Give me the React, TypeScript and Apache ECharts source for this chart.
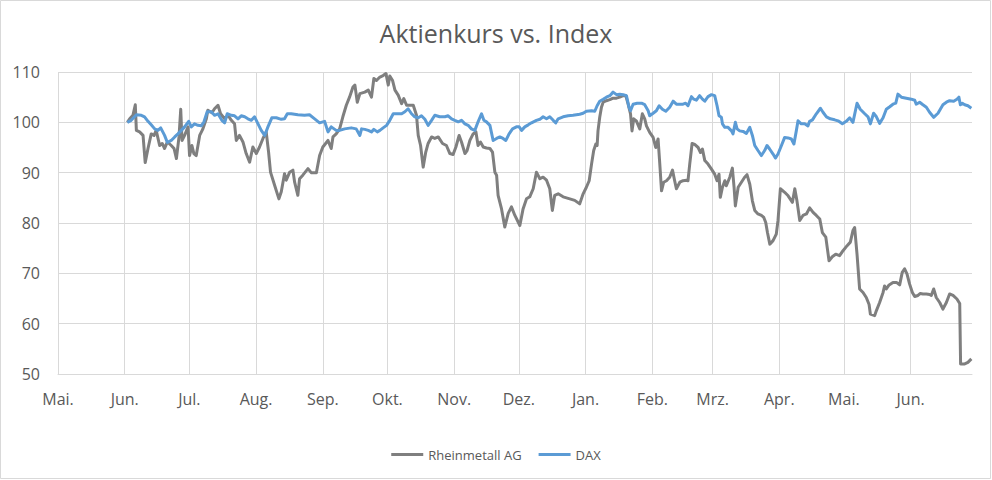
import React, { useEffect, useRef } from "react";
import * as echarts from "echarts";

// x values are days counted from 1 May (first month on the axis)
const monthStarts = [0, 31, 61, 92, 123, 153, 184, 214, 245, 276, 304, 335, 365, 396];
const monthLabels = ["Mai.", "Jun.", "Jul.", "Aug.", "Sep.", "Okt.", "Nov.", "Dez.", "Jan.", "Feb.", "Mrz.", "Apr.", "Mai.", "Jun."];
const yTicks = [50, 60, 70, 80, 90, 100, 110];

const rheinDays = [
  32.2, 33.3, 34.8, 35.9, 36.4, 37.9, 39.5, 40.5, 41.8, 43.3, 44.6, 45.6, 47.2, 48.4, 49.5, 50.8, 52.6, 53.9, 55.0, 56.2,
  57.0, 57.6, 58.8, 60.4, 61.1, 62.2, 63.1, 64.2, 65.8, 67.3, 68.9, 69.6, 71.5, 72.7, 74.3, 75.5, 77.4, 79.0, 80.5, 82.0,
  82.8, 84.3, 85.9, 87.4, 89.0, 90.5, 92.1, 93.6, 95.2, 96.7, 97.8, 98.7, 100.6, 102.6, 103.7, 105.2, 106.0, 107.6, 109.1, 109.9,
  111.4, 112.2, 113.7, 116.1, 117.6, 120.0, 121.5, 123.0, 125.4, 126.9, 127.7, 129.2, 130.8, 132.3, 133.9, 135.4, 137.0, 137.9, 139.0, 140.2,
  142.5, 144.1, 145.6, 146.7, 147.9, 149.5, 151.0, 152.3, 153.4, 154.1, 155.4, 156.5, 158.0, 159.6, 160.6, 161.9, 163.4, 165.0, 166.5, 167.3,
  168.4, 169.6, 170.8, 171.9, 173.5, 175.0, 176.6, 178.6, 180.4, 182.0, 183.5, 184.8, 186.3, 187.4, 189.0, 190.0, 191.3, 192.8, 194.1, 195.1,
  196.2, 197.5, 199.0, 200.6, 201.8, 202.9, 203.7, 204.4, 206.0, 207.5, 209.1, 210.6, 212.2, 214.5, 216.0, 217.6, 219.1, 220.7, 222.2, 223.8,
  225.3, 226.9, 228.4, 229.6, 230.7, 232.3, 234.6, 237.7, 240.0, 242.3, 243.9, 245.4, 246.7, 247.8, 248.8, 249.8, 250.4, 250.8, 251.6, 252.4,
  253.2, 254.7, 256.3, 257.8, 259.4, 260.9, 262.5, 263.7, 264.8, 265.9, 266.6, 267.4, 268.6, 270.2, 271.4, 272.5, 273.3, 274.8, 276.4, 277.6,
  278.7, 279.5, 280.3, 281.3, 282.6, 284.1, 285.4, 286.4, 287.2, 288.8, 290.3, 291.9, 292.6, 293.4, 294.5, 295.7, 297.3, 298.4, 299.3, 300.4,
  301.9, 303.5, 305.0, 306.1, 307.0, 307.6, 308.6, 309.7, 310.4, 312.0, 313.2, 314.0, 314.6, 315.9, 317.4, 318.9, 320.0, 321.3, 322.5, 323.6,
  325.1, 326.7, 327.8, 328.7, 329.5, 330.6, 332.1, 333.6, 334.4, 335.5, 337.5, 339.1, 341.1, 342.2, 343.2, 344.5, 346.0, 347.6, 349.1, 350.7,
  352.2, 353.8, 355.0, 356.6, 358.1, 359.6, 361.2, 363.0, 364.6, 366.5, 368.0, 369.2, 370.0, 371.1, 372.3, 373.9, 375.4, 376.7, 377.3, 379.3,
  380.1, 381.6, 383.2, 383.9, 384.7, 386.0, 387.8, 389.4, 390.9, 392.1, 393.2, 394.3, 395.5, 396.8, 397.9, 399.4, 400.5, 401.7, 403.3, 404.8,
  405.6, 406.7, 407.9, 409.5, 411.0, 412.6, 414.1, 415.7, 417.5, 418.8, 419.2, 421.1, 422.6, 424.2,
];
const rheinValues = [
  100.0, 100.7, 101.4, 103.5, 98.4, 98.1, 97.4, 92.0, 94.8, 97.7, 97.4, 98.4, 95.4, 95.8, 94.8, 96.1, 95.4, 94.8, 92.8, 97.1,
  102.6, 96.4, 97.4, 99.1, 93.4, 95.4, 93.8, 93.4, 97.4, 98.7, 100.7, 102.4, 101.9, 102.7, 103.4, 101.7, 100.7, 101.4, 100.4, 99.7,
  96.4, 97.4, 96.1, 93.8, 92.1, 95.1, 93.8, 95.1, 96.8, 98.1, 94.1, 90.1, 87.5, 84.8, 86.2, 89.8, 88.5, 90.1, 90.5, 88.1,
  85.5, 88.8, 89.5, 90.8, 90.0, 90.0, 93.4, 95.1, 96.4, 94.8, 97.1, 97.7, 98.7, 101.1, 103.4, 105.0, 107.0, 107.4, 104.0, 105.7,
  106.0, 106.4, 105.0, 108.7, 108.3, 109.0, 109.3, 109.7, 107.4, 109.2, 108.3, 106.4, 105.4, 103.7, 104.7, 103.4, 103.4, 103.4, 101.4, 97.4,
  95.4, 91.1, 94.1, 95.8, 97.1, 96.8, 97.1, 95.8, 95.4, 93.8, 93.6, 95.1, 97.4, 96.1, 93.8, 94.4, 96.4, 97.7, 98.1, 95.4,
  96.1, 95.1, 94.9, 94.8, 94.1, 90.1, 89.5, 85.5, 82.8, 79.2, 81.9, 83.2, 81.5, 79.5, 82.8, 84.8, 85.2, 86.8, 90.1, 88.8,
  89.1, 88.5, 86.8, 82.5, 85.5, 85.8, 85.2, 84.8, 84.5, 83.8, 85.8, 87.1, 88.4, 91.7, 94.4, 95.7, 95.4, 98.3, 101.0, 103.0,
  104.0, 104.3, 104.5, 104.8, 104.8, 105.0, 105.3, 105.3, 103.6, 101.7, 98.3, 100.7, 100.3, 98.7, 101.7, 100.7, 99.3, 98.0, 97.0, 95.0,
  96.7, 91.7, 86.4, 88.1, 88.4, 89.1, 90.5, 88.4, 86.8, 88.1, 88.4, 88.5, 88.4, 91.7, 95.8, 95.6, 95.0, 94.0, 94.7, 92.4,
  91.7, 90.7, 89.7, 88.4, 89.7, 85.1, 87.1, 88.4, 87.4, 89.1, 90.9, 87.1, 83.4, 87.1, 88.1, 89.1, 89.6, 87.7, 84.4, 82.5,
  81.8, 81.5, 81.1, 80.1, 78.1, 75.8, 76.5, 77.8, 80.5, 86.8, 86.1, 85.4, 84.1, 86.8, 84.4, 80.5, 81.5, 81.8, 83.0, 82.1,
  81.5, 80.8, 78.1, 77.2, 72.5, 73.3, 73.8, 73.5, 74.5, 75.5, 76.2, 78.5, 79.1, 73.8, 66.9, 66.2, 65.2, 63.8, 61.9, 61.6,
  62.6, 64.2, 66.2, 67.5, 66.9, 67.7, 68.2, 68.2, 67.7, 70.2, 70.9, 69.9, 67.9, 66.2, 65.4, 65.6, 66.0, 65.9, 65.9, 65.8,
  65.6, 66.9, 65.2, 64.2, 62.9, 64.2, 65.9, 65.6, 64.9, 64.0, 52.0, 52.0, 52.3, 53.0,
];

const daxDays = [
  32.2, 34.0, 36.4, 38.7, 40.2, 41.8, 43.3, 44.9, 46.4, 47.7, 49.5, 50.8, 52.6, 54.2, 55.7, 57.3, 58.8, 60.7, 61.9, 63.4,
  65.0, 66.5, 67.8, 69.3, 71.2, 72.7, 74.3, 76.1, 77.4, 78.6, 80.5, 82.0, 83.6, 85.1, 86.7, 88.2, 89.8, 91.3, 92.9, 94.4,
  96.0, 97.5, 99.3, 101.4, 103.7, 105.2, 106.5, 108.3, 111.4, 114.5, 116.8, 119.2, 121.5, 123.8, 125.4, 126.9, 129.2, 130.8, 133.1, 136.2,
  138.5, 140.2, 141.0, 142.5, 144.1, 145.6, 146.7, 148.3, 149.5, 151.0, 152.6, 154.1, 155.7, 158.0, 159.6, 161.1, 162.6, 164.2, 165.7, 167.3,
  168.8, 170.4, 171.9, 173.5, 175.0, 177.3, 179.7, 181.2, 182.8, 184.3, 185.9, 187.4, 189.0, 190.5, 192.0, 193.6, 195.1, 196.7, 197.8, 199.0,
  200.6, 202.1, 203.7, 205.2, 206.7, 208.0, 209.5, 211.1, 212.9, 214.2, 215.3, 216.8, 218.4, 219.9, 222.2, 223.8, 225.3, 226.9, 228.4, 230.0,
  231.2, 232.3, 234.6, 236.9, 239.2, 242.3, 243.9, 245.4, 247.8, 249.3, 250.4, 251.6, 253.2, 254.7, 256.3, 257.8, 259.4, 260.9, 262.5, 264.0,
  265.2, 265.9, 267.1, 269.0, 271.0, 272.5, 274.1, 274.8, 276.4, 277.9, 279.2, 280.7, 282.3, 284.1, 285.7, 287.2, 288.8, 290.3, 291.5, 292.6,
  294.2, 295.3, 296.5, 298.0, 299.3, 300.4, 301.9, 303.5, 305.0, 306.1, 307.0, 308.1, 308.6, 309.7, 311.2, 312.8, 313.5, 314.6, 315.4, 316.6,
  318.2, 319.7, 321.3, 322.5, 323.6, 325.1, 326.7, 328.2, 329.3, 330.5, 332.1, 333.2, 334.4, 336.0, 337.5, 339.1, 340.6, 341.8, 342.9, 343.7,
  345.2, 346.8, 348.3, 349.1, 350.4, 352.2, 354.1, 355.3, 356.9, 358.7, 360.7, 362.3, 364.3, 366.1, 367.7, 369.2, 371.1, 372.6, 374.7, 376.2,
  377.3, 378.8, 380.1, 381.6, 383.2, 384.7, 386.3, 387.8, 389.1, 390.1, 391.7, 394.0, 396.3, 397.9, 398.6, 400.2, 401.7, 403.3, 404.8, 406.7,
  408.7, 411.0, 412.6, 414.1, 416.0, 417.5, 418.4, 419.1, 420.0, 421.1, 422.6, 424.2,
];
const daxValues = [
  100.0, 100.4, 101.5, 101.4, 101.1, 100.2, 99.5, 98.7, 98.4, 98.9, 97.4, 96.0, 96.4, 97.1, 97.7, 98.4, 99.1, 100.2, 99.1, 99.7,
  99.4, 99.3, 100.1, 102.1, 102.1, 101.4, 101.7, 100.4, 99.9, 101.7, 101.4, 101.3, 100.7, 101.3, 101.1, 100.7, 100.4, 101.1, 99.7, 98.4,
  97.4, 99.1, 100.9, 100.9, 100.6, 100.7, 101.7, 101.7, 101.5, 101.4, 101.5, 100.7, 99.9, 100.2, 98.1, 99.1, 98.4, 98.4, 98.7, 98.9,
  98.7, 97.4, 98.7, 98.6, 98.4, 98.1, 98.6, 98.1, 98.4, 98.9, 99.4, 100.4, 101.7, 101.7, 101.7, 102.1, 102.7, 101.7, 101.1, 100.9,
  101.3, 100.6, 99.4, 100.4, 101.4, 101.1, 101.1, 101.3, 100.7, 100.4, 100.1, 100.4, 99.7, 99.4, 98.7, 98.4, 100.1, 101.7, 100.4, 100.1,
  99.4, 96.4, 96.8, 97.1, 96.8, 96.4, 97.7, 98.7, 99.1, 99.1, 98.4, 99.1, 99.5, 99.9, 100.4, 100.6, 101.1, 100.7, 101.1, 100.4,
  99.9, 100.7, 101.1, 101.3, 101.4, 101.6, 101.8, 102.2, 102.3, 102.2, 103.3, 104.2, 104.6, 105.0, 105.3, 106.0, 105.5, 105.6, 105.5, 105.3,
  103.0, 102.3, 103.6, 103.8, 103.8, 103.5, 102.3, 101.3, 101.8, 102.3, 103.3, 102.6, 102.2, 103.0, 104.2, 103.6, 103.6, 103.6, 103.8, 103.3,
  105.1, 104.6, 104.4, 105.3, 104.6, 104.2, 105.1, 105.5, 105.3, 103.3, 101.3, 101.0, 99.7, 99.0, 99.0, 98.3, 97.7, 100.0, 98.7, 98.3,
  98.2, 97.8, 99.0, 97.4, 95.4, 94.4, 93.4, 94.4, 95.4, 94.7, 93.7, 92.9, 93.7, 95.4, 97.0, 96.9, 96.7, 95.7, 98.3, 100.3,
  99.7, 99.7, 99.3, 100.2, 100.5, 101.7, 102.8, 102.0, 101.1, 100.7, 100.5, 100.3, 99.7, 100.2, 100.9, 100.0, 103.8, 102.6, 101.7, 101.1,
  99.7, 101.8, 101.1, 99.8, 100.9, 102.6, 103.1, 103.6, 103.8, 105.6, 105.0, 104.8, 104.6, 104.4, 103.6, 104.0, 103.5, 103.0, 102.0, 101.0,
  101.8, 103.5, 104.0, 104.3, 104.2, 104.6, 105.0, 103.5, 103.8, 103.5, 103.3, 102.8,
];

const seriesNames = ["Rheinmetall AG", "DAX"];
const seriesColors = ["#7f7f7f", "#5b9bd5"];
const TEXT = "#595959";
const GRID = "#d9d9d9";
const FONT = "'Open Sans', 'Noto Sans', sans-serif";

export default function App() {
  const ref = useRef<HTMLDivElement>(null);

  useEffect(() => {
    document.body.style.margin = "0";
    if (!ref.current) return;
    const chart = echarts.init(ref.current, undefined, { renderer: "svg" });
    const pairs = (xs: number[], ys: number[]) => xs.map((x, i) => [x, ys[i]]);
    chart.setOption({
      animation: false,
      backgroundColor: "#ffffff",
      textStyle: { fontFamily: FONT },
      title: {
        text: "Aktienkurs vs. Index",
        left: "center",
        top: 15,
        textStyle: { color: TEXT, fontSize: 25, fontWeight: "normal", fontFamily: FONT },
      },
      graphic: [
        {
          type: "rect",
          shape: { x: 0.5, y: 0.5, width: 990, height: 478 },
          style: { fill: "none", stroke: GRID, lineWidth: 1 },
          silent: true,
        },
      ],
      legend: {
        bottom: 14,
        left: "center",
        icon: "rect",
        itemWidth: 32,
        itemHeight: 3,
        itemGap: 17,
        textStyle: { color: TEXT, fontSize: 13, fontFamily: FONT },
        data: seriesNames,
      },
      grid: { left: 58, right: 20, top: 72, bottom: 106, containLabel: false },
      xAxis: {
        type: "value",
        min: 0,
        max: 424.5,
        axisLine: { show: true, lineStyle: { color: GRID, width: 1 } },
        axisTick: { show: false, customValues: monthStarts },
        splitLine: { show: true, lineStyle: { color: GRID, width: 1 } },
        axisLabel: {
          customValues: monthStarts,
          color: TEXT,
          fontSize: 16,
          fontFamily: FONT,
          margin: 17,
          formatter: (v: number) => {
            const i = monthStarts.indexOf(Math.round(v));
            return i >= 0 ? monthLabels[i] : "";
          },
        },
      },
      yAxis: {
        type: "value",
        min: yTicks[0],
        max: yTicks[yTicks.length - 1],
        interval: 10,
        axisLine: { show: false },
        axisTick: { show: false },
        splitLine: { show: true, lineStyle: { color: GRID, width: 1 } },
        axisLabel: { color: TEXT, fontSize: 16, fontFamily: FONT, margin: 18 },
      },
      series: [
        {
          name: seriesNames[0],
          type: "line",
          data: pairs(rheinDays, rheinValues),
          showSymbol: false,
          symbol: "none",
          lineStyle: { color: seriesColors[0], width: 3, join: "round" },
          itemStyle: { color: seriesColors[0] },
        },
        {
          name: seriesNames[1],
          type: "line",
          data: pairs(daxDays, daxValues),
          showSymbol: false,
          symbol: "none",
          lineStyle: { color: seriesColors[1], width: 3, join: "round" },
          itemStyle: { color: seriesColors[1] },
        },
      ],
    });
    return () => chart.dispose();
  }, []);

  return (
    <div
      ref={ref}
      style={{ position: "absolute", left: 0, top: 0, width: 992, height: 480 }}
    />
  );
}
